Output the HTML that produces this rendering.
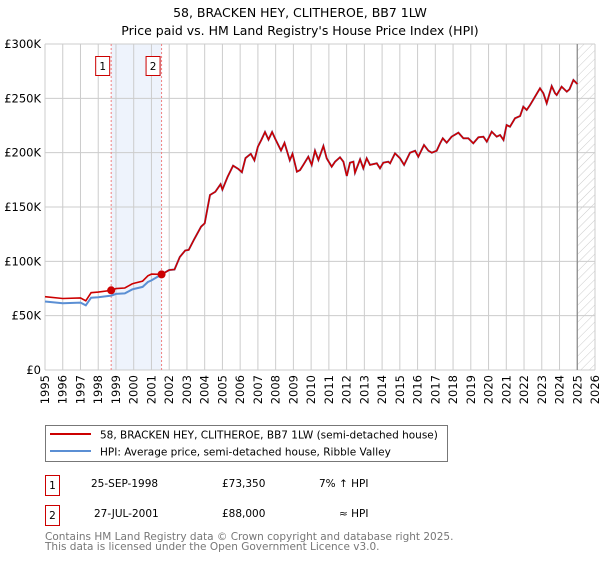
<!DOCTYPE html>
<html><head><meta charset="utf-8"><style>
body{margin:0;background:#fff;font-family:"Liberation Sans","DejaVu Sans",sans-serif;}
svg text{font-family:"DejaVu Sans","Liberation Sans",sans-serif;}
</style></head><body>
<svg id="c" width="600" height="560" xmlns="http://www.w3.org/2000/svg">
<defs><pattern id="hatch" width="6" height="6" patternUnits="userSpaceOnUse" patternTransform="rotate(45)"><line x1="0" y1="0" x2="0" y2="6" stroke="#ccc" stroke-width="1"/></pattern></defs>
<text x="300" y="17" text-anchor="middle" font-size="12.5" fill="#000">58, BRACKEN HEY, CLITHEROE, BB7 1LW</text>
<text x="300" y="35" text-anchor="middle" font-size="12.5" fill="#000">Price paid vs. HM Land Registry's House Price Index (HPI)</text>
<g id="grid"></g>
<g id="marks"></g>
<g id="legend">
<rect x="45.5" y="425.5" width="402" height="36" fill="#fff" stroke="#777"/>
<line x1="50" y1="434" x2="91" y2="434" stroke="#cc0000" stroke-width="2"/>
<text x="100" y="438.5" font-size="10.5">58, BRACKEN HEY, CLITHEROE, BB7 1LW (semi-detached house)</text>
<line x1="50" y1="451" x2="91" y2="451" stroke="#5b8fd4" stroke-width="2"/>
<text x="100" y="455.5" font-size="10.5">HPI: Average price, semi-detached house, Ribble Valley</text>
</g>
<g font-size="10.5">
<rect x="45.5" y="475.5" width="14" height="20" fill="#fff" stroke="#cc0000"/>
<text x="52.5" y="489" text-anchor="middle">1</text>
<text x="91" y="487">25-SEP-1998</text>
<text x="222" y="487">£73,350</text>
<text x="319" y="487">7% ↑ HPI</text>
<rect x="45.5" y="505.5" width="14" height="20" fill="#fff" stroke="#cc0000"/>
<text x="52.5" y="519" text-anchor="middle">2</text>
<text x="94" y="517">27-JUL-2001</text>
<text x="222" y="517">£88,000</text>
<text x="339" y="517">≈ HPI</text>
</g>
<text x="45" y="540" font-size="10.5" fill="#777">Contains HM Land Registry data © Crown copyright and database right 2025.</text>
<text x="45" y="550" font-size="10.5" fill="#777">This data is licensed under the Open Government Licence v3.0.</text>
</svg>
<script>
const hpiYears=[1995,1996,1997,1997.3,1997.6,1998,1998.73,1999,1999.5,1999.9,2000,2000.5,2000.8,2001,2001.57,2002,2002.3,2002.6,2002.9,2003.1,2003.4,2003.8,2004,2004.3,2004.6,2004.9,2005,2005.3,2005.6,2005.9,2006.1,2006.3,2006.6,2006.8,2007,2007.2,2007.4,2007.6,2007.8,2008,2008.3,2008.5,2008.8,2008.95,2009.2,2009.37,2009.56,2009.84,2010.03,2010.22,2010.41,2010.69,2010.88,2011.16,2011.35,2011.63,2011.82,2012.01,2012.19,2012.38,2012.47,2012.76,2012.94,2013.13,2013.32,2013.7,2013.88,2014.07,2014.35,2014.45,2014.73,2015.01,2015.24,2015.57,2015.86,2016.04,2016.36,2016.61,2016.8,2017.08,2017.27,2017.42,2017.64,2017.92,2018.3,2018.58,2018.86,2019.14,2019.43,2019.71,2019.9,2020.18,2020.46,2020.65,2020.84,2021.02,2021.21,2021.49,2021.78,2021.96,2022.15,2022.34,2022.62,2022.9,2023.09,2023.28,2023.56,2023.75,2023.84,2024.12,2024.41,2024.56,2024.78,2025.01];
const hpiValues=[63000,61500,62000,59500,66500,67000,68500,70000,70500,74000,74500,76500,81000,82500,88000,92000,92500,104000,110000,110500,120000,132000,135000,161000,164000,171000,166000,178000,188000,185000,182000,195000,199000,193000,205500,212000,219000,212000,219000,212000,202000,209000,193000,199000,182500,184000,188700,196300,188700,201800,193300,206100,194800,187100,191700,195700,191700,178500,190800,191700,181600,193900,185600,194800,188700,190200,185600,190800,191700,190200,199400,194800,188700,200000,201800,196300,207100,201800,200000,201800,208600,213200,209200,214700,218400,213200,213200,208600,214100,214700,210100,219300,214700,216300,211700,225500,223900,231600,233700,242300,239300,243900,251500,259200,254600,245400,261300,254600,253100,260700,256100,258300,266900,263200];
const saleYears=[1998.73,2001.57];
const salePrices=[73350,88000];
const saleLabels=["1","2"];
const preSalePremium=[1.07];
const yTicks=[0,50000,100000,150000,200000,250000,300000];
const yTickLabels=["£0","£50K","£100K","£150K","£200K","£250K","£300K"];
const xTicks=[1995,1996,1997,1998,1999,2000,2001,2002,2003,2004,2005,2006,2007,2008,2009,2010,2011,2012,2013,2014,2015,2016,2017,2018,2019,2020,2021,2022,2023,2024,2025,2026];
const dataEnd=2025.0;

const X0=45,X1=595,Y0=370,Y1=44;
const x=y=>X0+(y-1995)/(2026-1995)*(X1-X0);
const yv=v=>Y0-v/300000*(Y0-Y1);
const NS="http://www.w3.org/2000/svg";
function mk(tag,attrs,parent){const e=document.createElementNS(NS,tag);for(const k in attrs)e.setAttribute(k,attrs[k]);parent.appendChild(e);return e;}
const g=document.getElementById('grid'),m=document.getElementById('marks');
// shaded band
let band=mk('rect',{x:x(saleYears[0]),y:Y1,width:x(saleYears[1])-x(saleYears[0]),height:Y0-Y1,fill:'#eef3fc'},g);


xTicks.forEach(t=>{
 const l=mk('line',{x1:x(t),x2:x(t),y1:Y1,y2:Y0,stroke:'#ccc','stroke-width':1},g);
 
 
 const tx=mk('text',{x:0,y:0,'font-size':11.5,'text-anchor':'end',transform:`translate(${x(t)+4},${Y0+5}) rotate(-90)`},g);
 tx.textContent=t;
 
 
});
yTicks.forEach((t,i)=>{
 const l=mk('line',{x1:X0,x2:X1,y1:yv(t),y2:yv(t),stroke:'#ccc','stroke-width':1},g);
 
 
 const tx=mk('text',{x:X0-4,y:yv(t)+4,'font-size':11.5,'text-anchor':'end'},g);
 tx.textContent=yTickLabels[i];
 
 
});
// hatched future
let h=mk('rect',{x:x(dataEnd),y:Y1,width:X1-x(dataEnd),height:Y0-Y1,fill:'url(#hatch)'},g);


let dl=mk('line',{x1:x(dataEnd),x2:x(dataEnd),y1:Y1,y2:Y0,stroke:'#888','stroke-width':1.2},g);


saleYears.forEach((s,i)=>{
 const l=mk('line',{x1:x(s),x2:x(s),y1:Y1,y2:Y0,stroke:'#f08080','stroke-width':1,'stroke-dasharray':'2,2'},g);
 
 
 const r=mk('rect',{x:x(s)-15.5,y:56.5,width:14,height:19,fill:'#fff',stroke:'#cc0000'},g);
 
 
 const t=mk('text',{x:x(s)-8.5,y:70,'font-size':10.5,'text-anchor':'middle'},g);
 t.textContent=saleLabels[i];
 
 
});
// lines
const hp=hpiYears.map((yr,i)=>x(yr).toFixed(1)+','+yv(hpiValues[i]).toFixed(1)).join(' ');
let hl=mk('polyline',{points:hp,fill:'none',stroke:'#5b8fd4','stroke-width':2},m);


const rp=hpiYears.map((yr,i)=>{const v=yr<saleYears[1]?hpiValues[i]*preSalePremium[0]:hpiValues[i];return x(yr).toFixed(1)+','+yv(v).toFixed(1);}).join(' ');
let rl=mk('polyline',{points:rp,fill:'none',stroke:'#cc0000','stroke-width':1.6},m);


saleYears.forEach((s,i)=>{
 const c=mk('circle',{cx:x(s),cy:yv(salePrices[i]),r:4,fill:'#cc0000'},m);
 
 
});
</script>
</body></html>
